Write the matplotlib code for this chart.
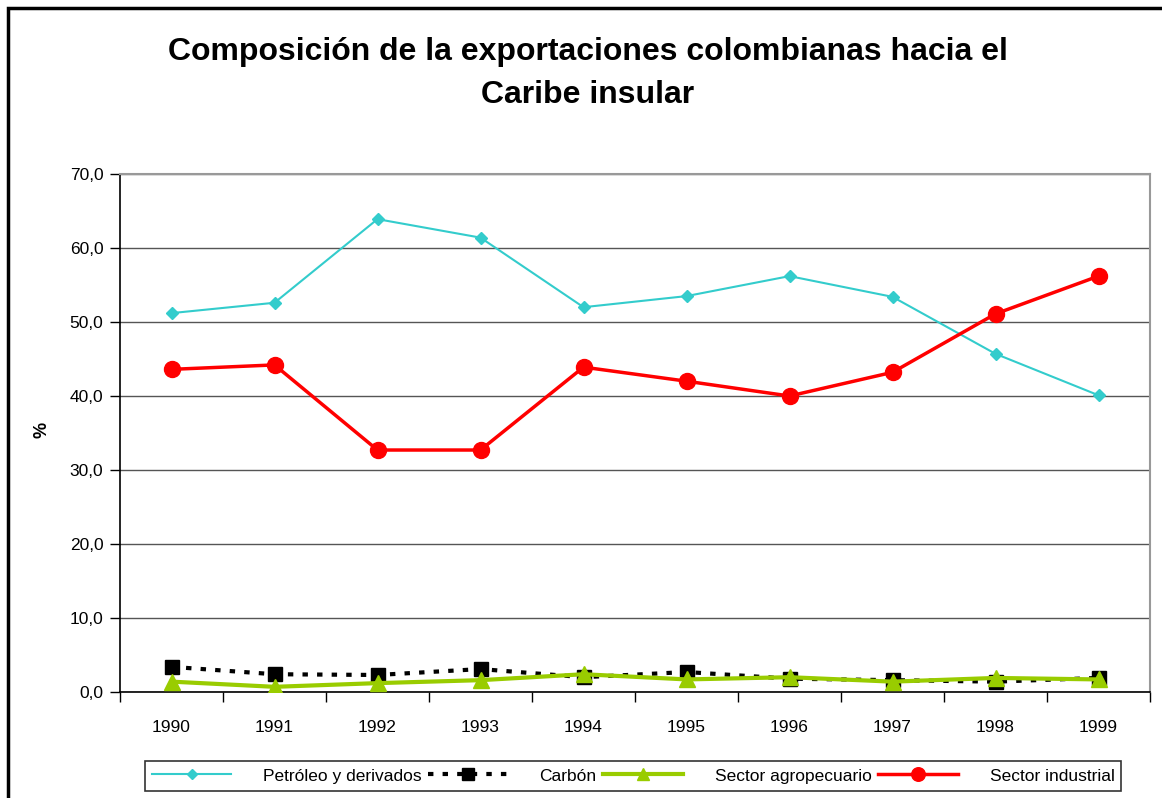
import matplotlib.pyplot as plt
from matplotlib.patches import Rectangle
from matplotlib.ticker import FuncFormatter, MultipleLocator

plt.rcParams['font.family'] = ['Liberation Sans', 'DejaVu Sans']

# Data
years = ["1990", "1991", "1992", "1993", "1994", "1995", "1996", "1997", "1998", "1999"]
petroleo = [51.2, 52.6, 63.9, 61.4, 52.0, 53.5, 56.2, 53.4, 45.7, 40.1]
carbon = [3.4, 2.4, 2.3, 3.1, 2.0, 2.7, 1.8, 1.6, 1.4, 1.9]
agropecuario = [1.4, 0.7, 1.2, 1.6, 2.4, 1.7, 2.0, 1.4, 1.9, 1.7]
industrial = [43.6, 44.2, 32.7, 32.7, 43.9, 42.0, 40.0, 43.2, 51.1, 56.2]

W, H = 1162, 798
fig = plt.figure(figsize=(W / 100, H / 100), dpi=100)
ax = fig.add_axes([120 / W, 1 - 692 / H, (1150 - 120) / W, (692 - 174) / H])

x = range(len(years))
ax.plot(x, petroleo, color="#33CCCC", lw=1.5, marker="D", ms=6,
        label="Petróleo y derivados", zorder=3)
ax.plot(x, carbon, color="black", lw=3, ls=(0, (1.3, 2.2)), marker="s", ms=10,
        label="Carbón", zorder=3)
ax.plot(x, agropecuario, color="#99CC00", lw=3, marker="^", ms=11,
        label="Sector agropecuario", zorder=4)
ax.plot(x, industrial, color="#FF0000", lw=2.5, marker="o", ms=11.5,
        label="Sector industrial", zorder=3)

ax.set_xlim(-0.5, len(years) - 0.5)
ax.set_ylim(0, 70)
ax.yaxis.set_major_locator(MultipleLocator(10))
ax.yaxis.set_major_formatter(FuncFormatter(lambda v, p: f"{v:.1f}".replace(".", ",")))
ax.set_xticks(list(x))
ax.set_xticklabels(years)
ax.set_xticks([i + 0.5 for i in range(-1, len(years))], minor=True)
ax.tick_params(axis="x", which="major", length=0, pad=20, labelsize=12.5)
ax.tick_params(axis="x", which="minor", length=7, width=1, color="black")
ax.tick_params(axis="y", length=7, width=1, labelsize=12.5, pad=5)

ax.grid(axis="y", color="#555555", lw=1)
ax.set_axisbelow(True)
for side in ["top", "right"]:
    ax.spines[side].set_color("#999999")
    ax.spines[side].set_linewidth(1.5)
for side in ["left", "bottom"]:
    ax.spines[side].set_color("black")
    ax.spines[side].set_linewidth(1.2)

fig.text(42 / W, 1 - 430 / H, "%", rotation=90, ha="center", va="center",
         fontsize=13, fontweight="bold")

fig.text(588 / W, 1 - 52 / H, "Composición de la exportaciones colombianas hacia el",
         ha="center", va="center", fontsize=23, fontweight="bold")
fig.text(588 / W, 1 - 95 / H, "Caribe insular",
         ha="center", va="center", fontsize=23, fontweight="bold")

leg = fig.legend(loc="center", bbox_to_anchor=(633 / W, 1 - 776 / H), ncol=4,
                 frameon=True, fancybox=False, edgecolor="black", fontsize=12.5,
                 handlelength=4.6, handletextpad=1.8, columnspacing=0.4,
                 borderpad=0.4, markerscale=0.85)
leg.get_frame().set_linewidth(1.2)

# outer chart frame (cropped at right and bottom)
fig.patches.append(Rectangle((8 / W, -0.1), 1.2, 1 - 8 / H + 0.1, transform=fig.transFigure,
                             fill=False, edgecolor="black", lw=2.5))

fig.savefig("out.png", dpi=100)
